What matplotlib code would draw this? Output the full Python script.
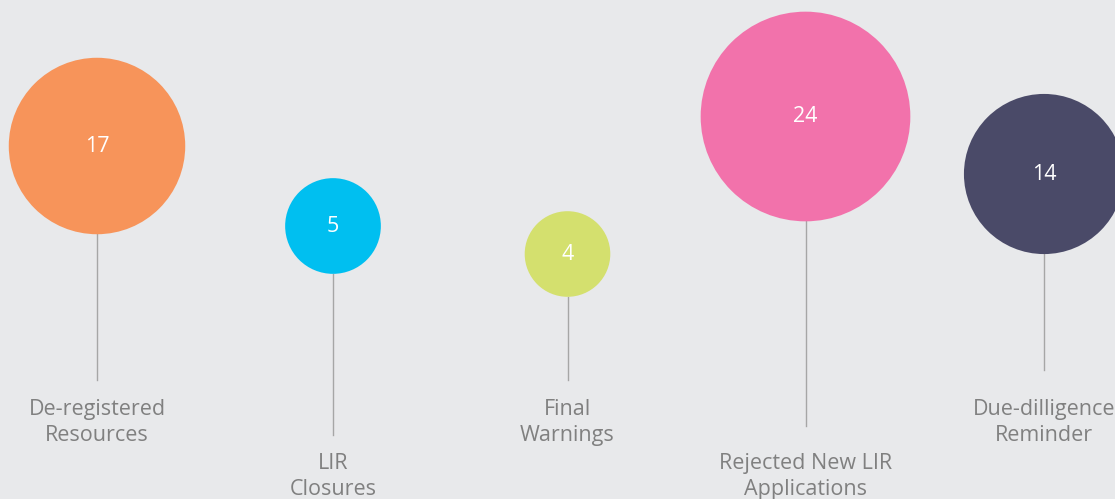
import numpy as np
import matplotlib
matplotlib.use("Agg")
import matplotlib.pyplot as plt
from matplotlib.patches import Circle

plt.rcParams['font.family'] = ['Open Sans', 'DejaVu Sans']

labels = ["De-registered\nResources", "LIR\nClosures", "Final\nWarnings",
          "Rejected New LIR\nApplications", "Due-dilligence\nReminder"]
values = [17, 5, 4, 24, 14]
colors = ["#f7945a", "#00bff0", "#d4e06e", "#f272ab", "#4a4a68"]

# layout in pixel coordinates
bubble_x = [97, 333, 567.5, 805.5, 1044]
bubble_y = [146, 226, 254, 116.5, 174]
stem_end = [380, 435, 380, 426, 370]
label_y = [399, 453, 399, 453, 399]
scale = 21.4  # px per sqrt(value)

fig = plt.figure(figsize=(11.15, 4.99), dpi=100)
fig.patch.set_facecolor("#e8e9eb")
ax = fig.add_axes([0, 0, 1, 1])
ax.set_facecolor("#e8e9eb")
ax.set_xlim(0, 1115)
ax.set_ylim(499, 0)
ax.axis("off")

for i, (lab, v, c) in enumerate(zip(labels, values, colors)):
    x = bubble_x[i]
    r = scale * np.sqrt(v)
    y = bubble_y[i]
    ax.plot([x, x], [y + r, stem_end[i]], color="#a6a6a6", lw=1, zorder=1)
    ax.add_patch(Circle((x, y), r, facecolor=c, edgecolor="none", zorder=2))
    ax.text(x, y, str(v), color="white", fontsize=15.5, ha="center", va="center", zorder=3)
    ax.text(x, label_y[i], lab, color="#808080", fontsize=15.5, ha="center", va="top",
            linespacing=1.29)

fig.savefig("out.png", dpi=100, facecolor=fig.get_facecolor())
